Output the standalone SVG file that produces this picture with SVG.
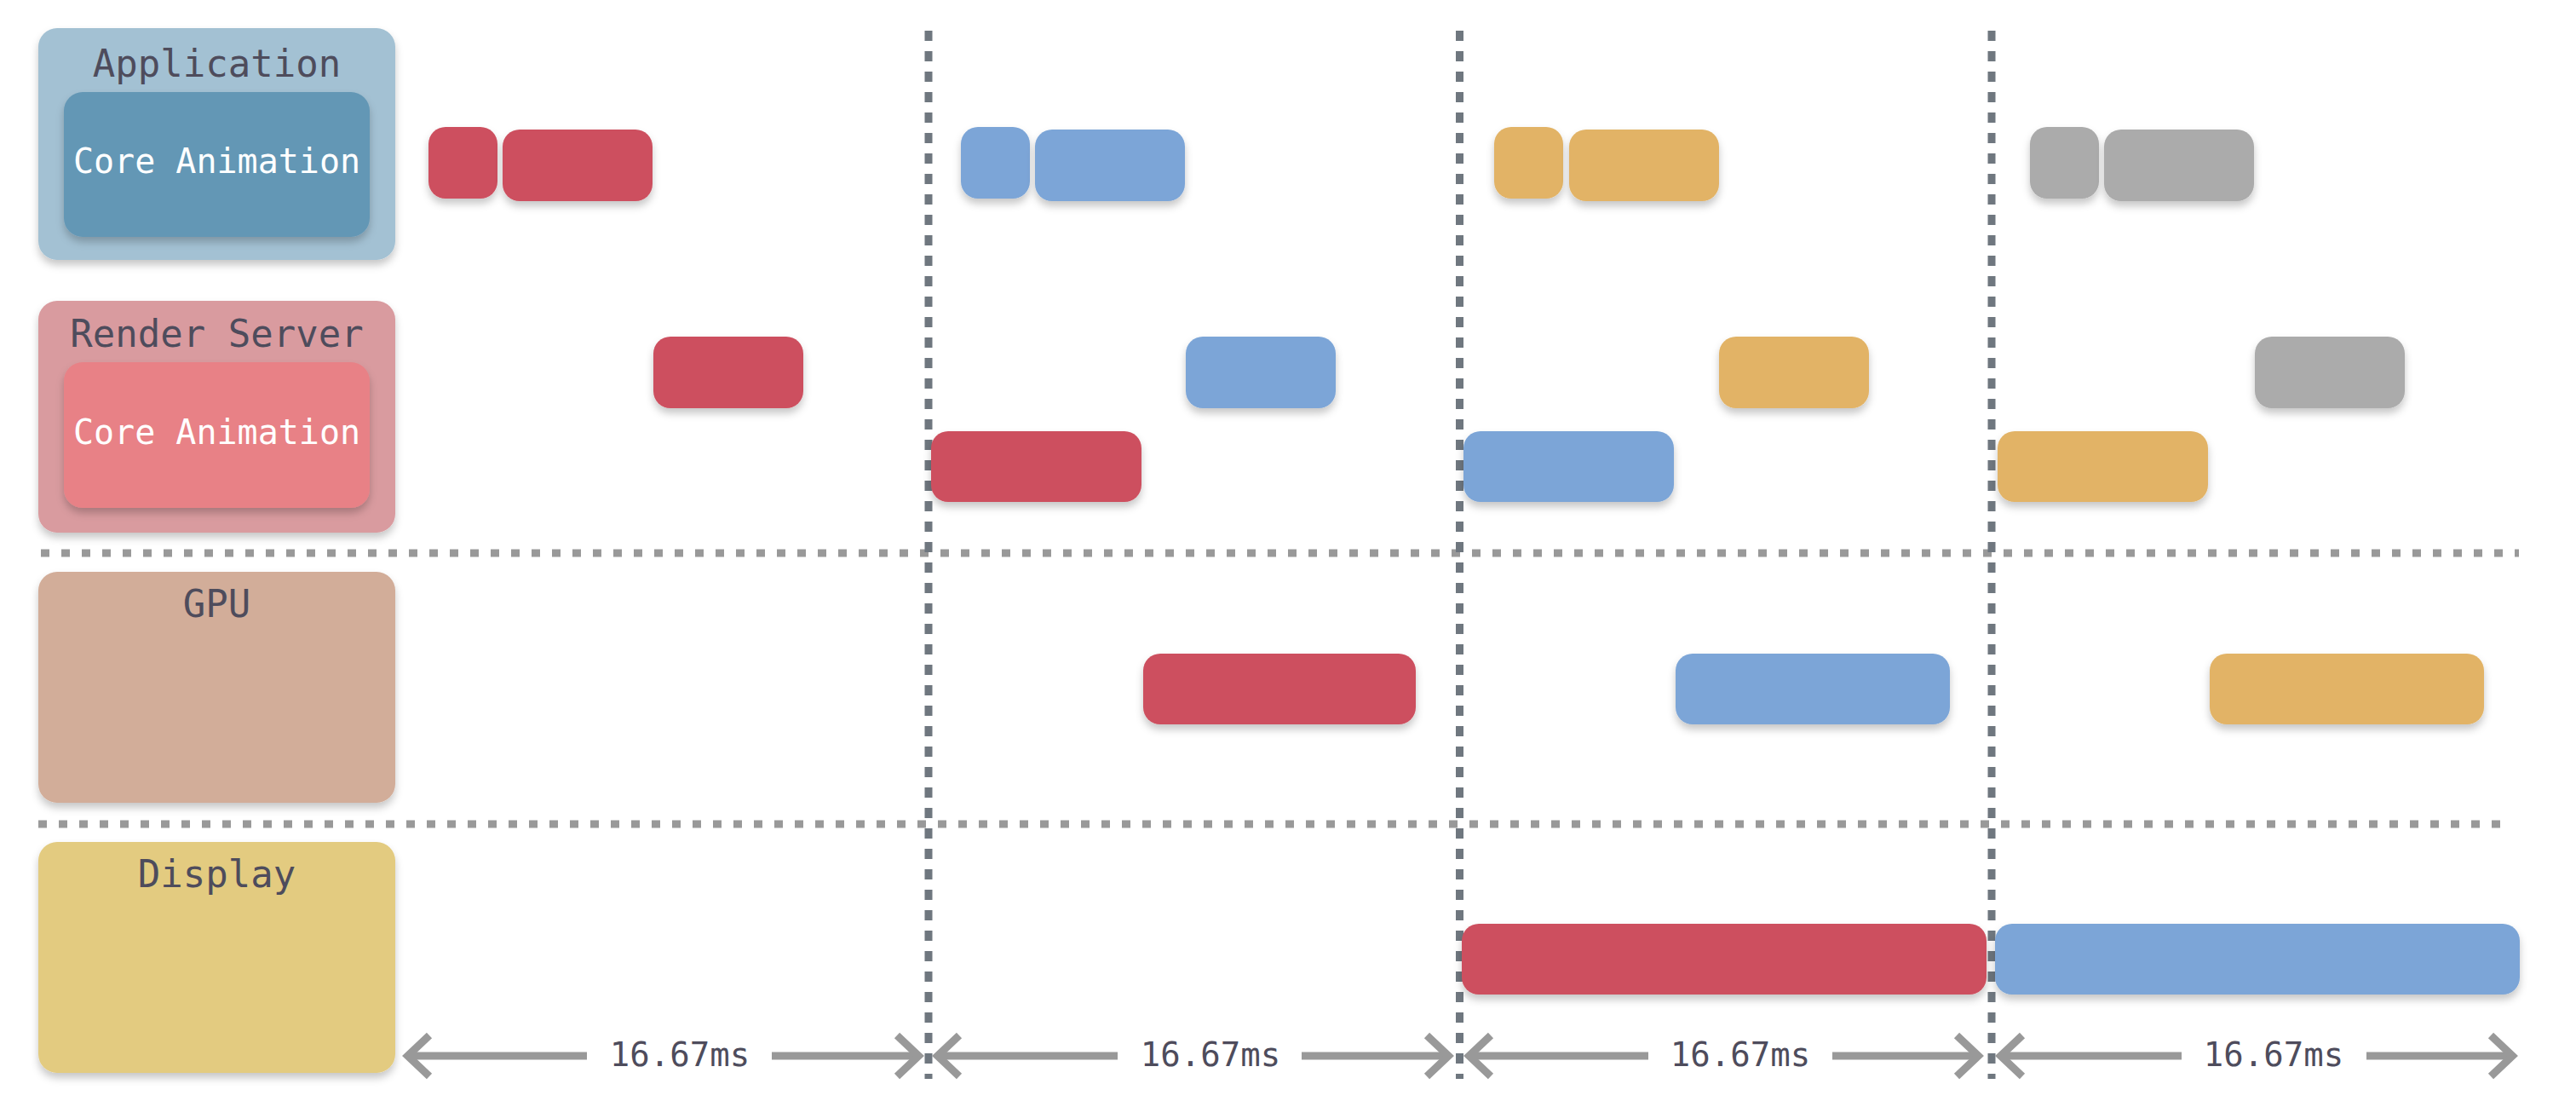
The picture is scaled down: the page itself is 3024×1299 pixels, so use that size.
<svg xmlns="http://www.w3.org/2000/svg" width="3024" height="1299" viewBox="0 0 3024 1299">
<defs>
<filter id="sh" x="-20%" y="-30%" width="140%" height="170%">
<feDropShadow dx="0" dy="6" stdDeviation="5" flood-color="#000" flood-opacity="0.22"/>
</filter>
<marker id="ah" markerUnits="userSpaceOnUse" markerWidth="80" markerHeight="80" viewBox="-40 -40 80 80" refX="0" refY="0" orient="auto-start-reverse" overflow="visible">
<path d="M -24 -24 L 1.4 0 L -24 24" fill="none" stroke="#999999" stroke-width="9" stroke-linejoin="miter" stroke-miterlimit="10"/>
</marker>
</defs>
<style>
text{font-family:"DejaVu Sans Mono","Liberation Mono",monospace;text-anchor:middle}
.t{fill:#4E4C5C;font-size:44px}
.ca{fill:#FFFFFF;font-size:40px}
.ms{fill:#4E4C5C;font-size:39px}
.blk{filter:url(#sh)}
.red{fill:#CD505F}
.blue{fill:#7BA5D7}
.org{fill:#E2B366}
.gry{fill:#ABABAB}
.hd{fill:none;stroke:#999999;stroke-width:9;stroke-dasharray:10 14}
.vd{fill:none;stroke:#6F777F;stroke-width:9;stroke-dasharray:12 12}
.ar{fill:none;stroke:#999999;stroke-width:9}
</style>
<rect width="3024" height="1299" fill="#FFFFFF"/>

<g id="separators">
<line class="hd" x1="48" y1="649" x2="2957" y2="649"/>
<line class="hd" x1="45" y1="967" x2="2948" y2="967"/>
<line class="vd" x1="1090" y1="36" x2="1090" y2="1266"/>
<line class="vd" x1="1713.5" y1="36" x2="1713.5" y2="1266"/>
<line class="vd" x1="2338" y1="36" x2="2338" y2="1266"/>
</g>

<g id="application">
<rect class="blk" x="45" y="33" width="419" height="272" rx="22" fill="#A3C1D3"/>
<text class="t" x="254.5" y="90">Application</text>
<rect class="blk" x="75" y="108" width="359" height="170" rx="22" fill="#6497B5"/>
<text class="ca" x="254.5" y="203">Core Animation</text>
</g>

<g id="render-server">
<rect class="blk" x="45" y="353" width="419" height="272" rx="22" fill="#D99B9F"/>
<text class="t" x="254.5" y="407">Render Server</text>
<rect class="blk" x="75" y="425" width="359" height="171" rx="22" fill="#E88186"/>
<text class="ca" x="254.5" y="521">Core Animation</text>
</g>

<g id="gpu">
<rect class="blk" x="45" y="671" width="419" height="271" rx="22" fill="#D2AD99"/>
<text class="t" x="254.5" y="724">GPU</text>
</g>

<g id="display">
<rect class="blk" x="45" y="988" width="419" height="271" rx="22" fill="#E3CB80"/>
<text class="t" x="254.5" y="1041">Display</text>
</g>

<g id="frame-red">
<rect class="blk red" x="503" y="149" width="81" height="84" rx="20"/>
<rect class="blk red" x="590" y="152" width="176" height="84" rx="20"/>
<rect class="blk red" x="767" y="395" width="176" height="84" rx="20"/>
<rect class="blk red" x="1093" y="506" width="247" height="83" rx="20"/>
<rect class="blk red" x="1342" y="767" width="320" height="83" rx="20"/>
<rect class="blk red" x="1716" y="1084" width="616" height="83" rx="20"/>
</g>

<g id="frame-blue">
<rect class="blk blue" x="1128" y="149" width="81" height="84" rx="20"/>
<rect class="blk blue" x="1215" y="152" width="176" height="84" rx="20"/>
<rect class="blk blue" x="1392" y="395" width="176" height="84" rx="20"/>
<rect class="blk blue" x="1718" y="506" width="247" height="83" rx="20"/>
<rect class="blk blue" x="1967" y="767" width="322" height="83" rx="20"/>
<rect class="blk blue" x="2342" y="1084" width="616" height="83" rx="20"/>
</g>

<g id="frame-orange">
<rect class="blk org" x="1754" y="149" width="81" height="84" rx="20"/>
<rect class="blk org" x="1842" y="152" width="176" height="84" rx="20"/>
<rect class="blk org" x="2018" y="395" width="176" height="84" rx="20"/>
<rect class="blk org" x="2345" y="506" width="247" height="83" rx="20"/>
<rect class="blk org" x="2594" y="767" width="322" height="83" rx="20"/>
</g>

<g id="frame-gray">
<rect class="blk gry" x="2383" y="149" width="81" height="84" rx="20"/>
<rect class="blk gry" x="2470" y="152" width="176" height="84" rx="20"/>
<rect class="blk gry" x="2647" y="395" width="176" height="84" rx="20"/>
</g>

<g id="connectors">
<line class="ar" x1="480" y1="1239" x2="689" y2="1239" marker-start="url(#ah)"/>
<line class="ar" x1="906" y1="1239" x2="1077" y2="1239" marker-end="url(#ah)"/>
<text class="ms" x="798" y="1251">16.67ms</text>
<line class="ar" x1="1102" y1="1239" x2="1312" y2="1239" marker-start="url(#ah)"/>
<line class="ar" x1="1528" y1="1239" x2="1699" y2="1239" marker-end="url(#ah)"/>
<text class="ms" x="1421" y="1251">16.67ms</text>
<line class="ar" x1="1726" y1="1239" x2="1935" y2="1239" marker-start="url(#ah)"/>
<line class="ar" x1="2151" y1="1239" x2="2321" y2="1239" marker-end="url(#ah)"/>
<text class="ms" x="2043" y="1251">16.67ms</text>
<line class="ar" x1="2350" y1="1239" x2="2561" y2="1239" marker-start="url(#ah)"/>
<line class="ar" x1="2778" y1="1239" x2="2948" y2="1239" marker-end="url(#ah)"/>
<text class="ms" x="2669" y="1251">16.67ms</text>
</g>
</svg>
